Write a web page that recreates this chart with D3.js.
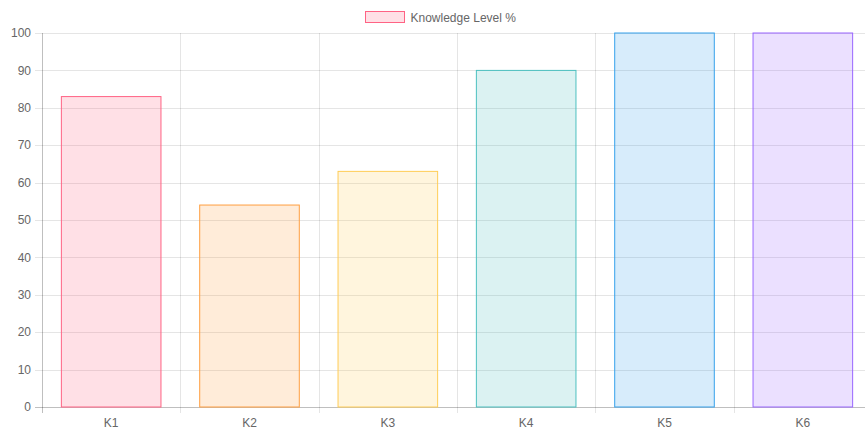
<!DOCTYPE html>
<html>
<head>
<meta charset="utf-8">
<script src="https://cdn.jsdelivr.net/npm/d3@7"></script>
<style>
  body { margin: 0; background: #fff; overflow: hidden; }
  svg text { font-family: "Liberation Sans", Arial, Helvetica, sans-serif; font-size: 12px; fill: #666; }
</style>
</head>
<body>
<div id="chart"></div>
<script>
const categories = ['K1', 'K2', 'K3', 'K4', 'K5', 'K6'];
const values = [83, 54, 63, 90, 100, 100];
const seriesName = 'Knowledge Level %';
const yTicks = [0, 10, 20, 30, 40, 50, 60, 70, 80, 90, 100];
const fills = ['rgba(255,99,132,0.2)', 'rgba(255,159,64,0.2)', 'rgba(255,205,86,0.2)',
    'rgba(75,192,192,0.2)', 'rgba(54,162,235,0.2)', 'rgba(153,102,255,0.2)'];
const strokes = ['rgb(255,99,132)', 'rgb(255,159,64)', 'rgb(255,205,86)',
    'rgb(75,192,192)', 'rgb(54,162,235)', 'rgb(153,102,255)'];

const chartWidth = 865;
const chartHeight = 432;
// the plot runs a little past the right edge of the picture, as in the original
const margin = { top: 33, bottom: 25, left: 42 };
const width = 830;
const height = chartHeight - margin.top - margin.bottom;

const svg = d3.select('#chart')
    .append('svg')
    .attr('width', chartWidth)
    .attr('height', chartHeight);

// legend
const legend = svg.append('g').attr('transform', 'translate(365.5,11.5)');
legend.append('rect')
    .attr('width', 39).attr('height', 11)
    .attr('fill', fills[0]).attr('stroke', strokes[0]).attr('stroke-width', 1);
legend.append('text')
    .attr('x', 45).attr('y', 6).attr('dy', '0.35em')
    .text(seriesName);

const g = svg.append('g')
    .attr('transform', `translate(${margin.left},${margin.top})`);

const x = d3.scaleBand()
    .domain(categories)
    .range([0, width]);

const y = d3.scaleLinear()
    .domain([0, 100])
    .range([height, 0]);

// horizontal grid
g.append('g')
    .selectAll('line')
    .data(yTicks)
    .enter().append('line')
    .attr('x1', -7).attr('x2', width)
    .attr('y1', d => Math.round(y(d)) + 0.5)
    .attr('y2', d => Math.round(y(d)) + 0.5)
    .attr('stroke', d => d === 0 ? 'rgba(0,0,0,0.25)' : 'rgba(0,0,0,0.1)');

// vertical grid
const vLines = categories.map(c => x(c)).concat([width]);
g.append('g')
    .selectAll('line')
    .data(vLines)
    .enter().append('line')
    .attr('x1', d => Math.round(d) + 0.5).attr('x2', d => Math.round(d) + 0.5)
    .attr('y1', 0).attr('y2', height + 6)
    .attr('stroke', (d, i) => i === 0 ? 'rgba(0,0,0,0.25)' : 'rgba(0,0,0,0.1)');

// y labels
g.append('g')
    .selectAll('text')
    .data(yTicks)
    .enter().append('text')
    .attr('x', -11)
    .attr('y', d => y(d))
    .attr('dy', '0.35em')
    .attr('text-anchor', 'end')
    .text(d => d);

// x labels
g.append('g')
    .selectAll('text')
    .data(categories)
    .enter().append('text')
    .attr('x', d => x(d) + x.bandwidth() / 2)
    .attr('y', height + 16)
    .attr('dy', '0.35em')
    .attr('text-anchor', 'middle')
    .text(d => d);

// bars
const barW = x.bandwidth() * 0.72;
g.selectAll('.bar')
    .data(values)
    .enter().append('rect')
    .attr('class', 'bar')
    .attr('x', (d, i) => x(categories[i]) + (x.bandwidth() - barW) / 2)
    .attr('width', barW)
    .attr('y', d => y(d))
    .attr('height', d => height - y(d))
    .attr('fill', (d, i) => fills[i])
    .attr('stroke', (d, i) => strokes[i])
    .attr('stroke-width', 1);
</script>
</body>
</html>
